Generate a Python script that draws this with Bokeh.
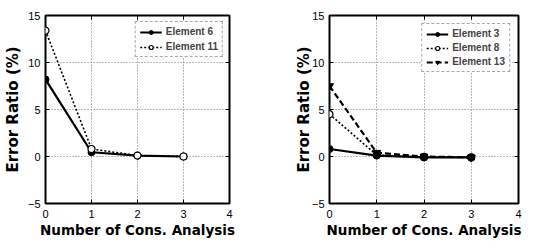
from bokeh.plotting import figure
from bokeh.layouts import row
from bokeh.models import Range1d, FixedTicker, LinearAxis, Legend, LegendItem
from bokeh.embed import file_html
from bokeh.resources import INLINE

x_vals = [0, 1, 2, 3]
# left panel
elem6 = [8.2, 0.45, 0.1, 0.0]
elem11 = [13.4, 0.8, 0.1, 0.0]
# right panel
elem3 = [0.8, 0.1, -0.1, -0.1]
elem8 = [4.5, 0.15, -0.05, -0.1]
elem13 = [7.5, 0.4, 0.0, -0.1]

x_ticks = [0, 1, 2, 3, 4]
y_ticks = [-5, 0, 5, 10, 15]
x_label = "Number of Cons. Analysis"
y_label = "Error Ratio (%)"


def make_fig(width, border_left, border_right, standoff):
    p = figure(width=width, height=248, output_backend="svg", toolbar_location=None,
               x_range=Range1d(0, 4), y_range=Range1d(-5, 15),
               min_border_left=border_left, min_border_right=border_right,
               min_border_top=15, min_border_bottom=45)
    p.outline_line_color = "black"
    p.outline_line_width = 2
    p.background_fill_color = "white"
    p.border_fill_color = "white"
    for ax in (p.xaxis[0], p.yaxis[0]):
        ax.major_tick_in = 4
        ax.major_tick_out = 0
        ax.minor_tick_line_color = None
        ax.axis_line_color = None
        ax.major_label_text_font = "Liberation Sans"
        ax.major_label_text_font_size = "11px"
        ax.major_label_text_color = "black"
        ax.axis_label_text_font = "DejaVu Sans"
        ax.axis_label_text_font_style = "bold"
        ax.axis_label_text_color = "black"
    p.xaxis[0].axis_label_text_font_size = "13.5px"
    p.yaxis[0].axis_label_text_font_size = "15px"
    p.xaxis[0].ticker = FixedTicker(ticks=x_ticks)
    p.yaxis[0].ticker = FixedTicker(ticks=y_ticks)
    p.xaxis[0].axis_label = x_label
    p.yaxis[0].axis_label = y_label
    p.xaxis[0].axis_label_standoff = 1
    p.yaxis[0].axis_label_standoff = standoff
    p.xaxis[0].major_label_standoff = 6
    p.yaxis[0].major_label_standoff = 5
    for loc, tk in (("above", x_ticks), ("right", y_ticks)):
        ax = LinearAxis(ticker=FixedTicker(ticks=tk),
                        major_label_overrides={t: "" for t in tk},
                        major_label_standoff=0,
                        major_tick_in=4, major_tick_out=0, minor_tick_line_color=None,
                        axis_line_color=None)
        p.add_layout(ax, loc)
    p.xgrid.ticker = FixedTicker(ticks=x_ticks)
    p.ygrid.ticker = FixedTicker(ticks=y_ticks)
    for g in (p.xgrid[0], p.ygrid[0]):
        g.grid_line_color = "#777777"
        g.grid_line_dash = "1 2"
        g.grid_line_width = 1
    return p


def style_legend(p, items, margin, spacing):
    leg = Legend(items=items, location="top_right")
    leg.label_text_font = "Liberation Sans"
    leg.label_text_font_style = "bold"
    leg.label_text_font_size = "10px"
    leg.border_line_color = "#555555"
    leg.border_line_dash = "2 1"
    leg.border_line_width = 1
    leg.glyph_width = 22
    leg.glyph_height = 10
    leg.label_height = 10
    leg.spacing = spacing
    leg.padding = 4
    leg.margin = margin
    leg.label_standoff = 4
    leg.background_fill_alpha = 1
    p.add_layout(leg)


p1 = make_fig(268, 42, 39, 3)
l6 = p1.line(x_vals, elem6, line_color="black", line_width=2.2)
s6 = p1.scatter(x_vals, elem6, marker="circle", size=7, fill_color="black", line_color="black")
l11 = p1.line(x_vals, elem11, line_color="black", line_width=1.6, line_dash="2 2")
s11 = p1.scatter(x_vals, elem11, marker="circle", size=7, fill_color="white", line_color="black", line_width=1.2)
style_legend(p1, [LegendItem(label="Element 6", renderers=[l6, s6]),
                  LegendItem(label="Element 11", renderers=[l11, s11])], 6, 4)

p2 = make_fig(269, 61, 19, -4)
l13 = p2.line(x_vals, elem13, line_color="black", line_width=2.2, line_dash="6 3")
s13 = p2.scatter(x_vals, elem13, marker="inverted_triangle", size=8, fill_color="black", line_color="black")
l8 = p2.line(x_vals, elem8, line_color="black", line_width=1.6, line_dash="2 2")
s8 = p2.scatter(x_vals, elem8, marker="circle", size=7, fill_color="white", line_color="black", line_width=1.2)
l3 = p2.line(x_vals, elem3, line_color="black", line_width=2.2)
s3 = p2.scatter(x_vals, elem3, marker="circle", size=7, fill_color="black", line_color="black")
style_legend(p2, [LegendItem(label="Element 3", renderers=[l3, s3]),
                  LegendItem(label="Element 8", renderers=[l8, s8]),
                  LegendItem(label="Element 13", renderers=[l13, s13])], 8, 3)

layout = row(p1, p2)
open("out.html", "w").write(file_html(layout, INLINE))
